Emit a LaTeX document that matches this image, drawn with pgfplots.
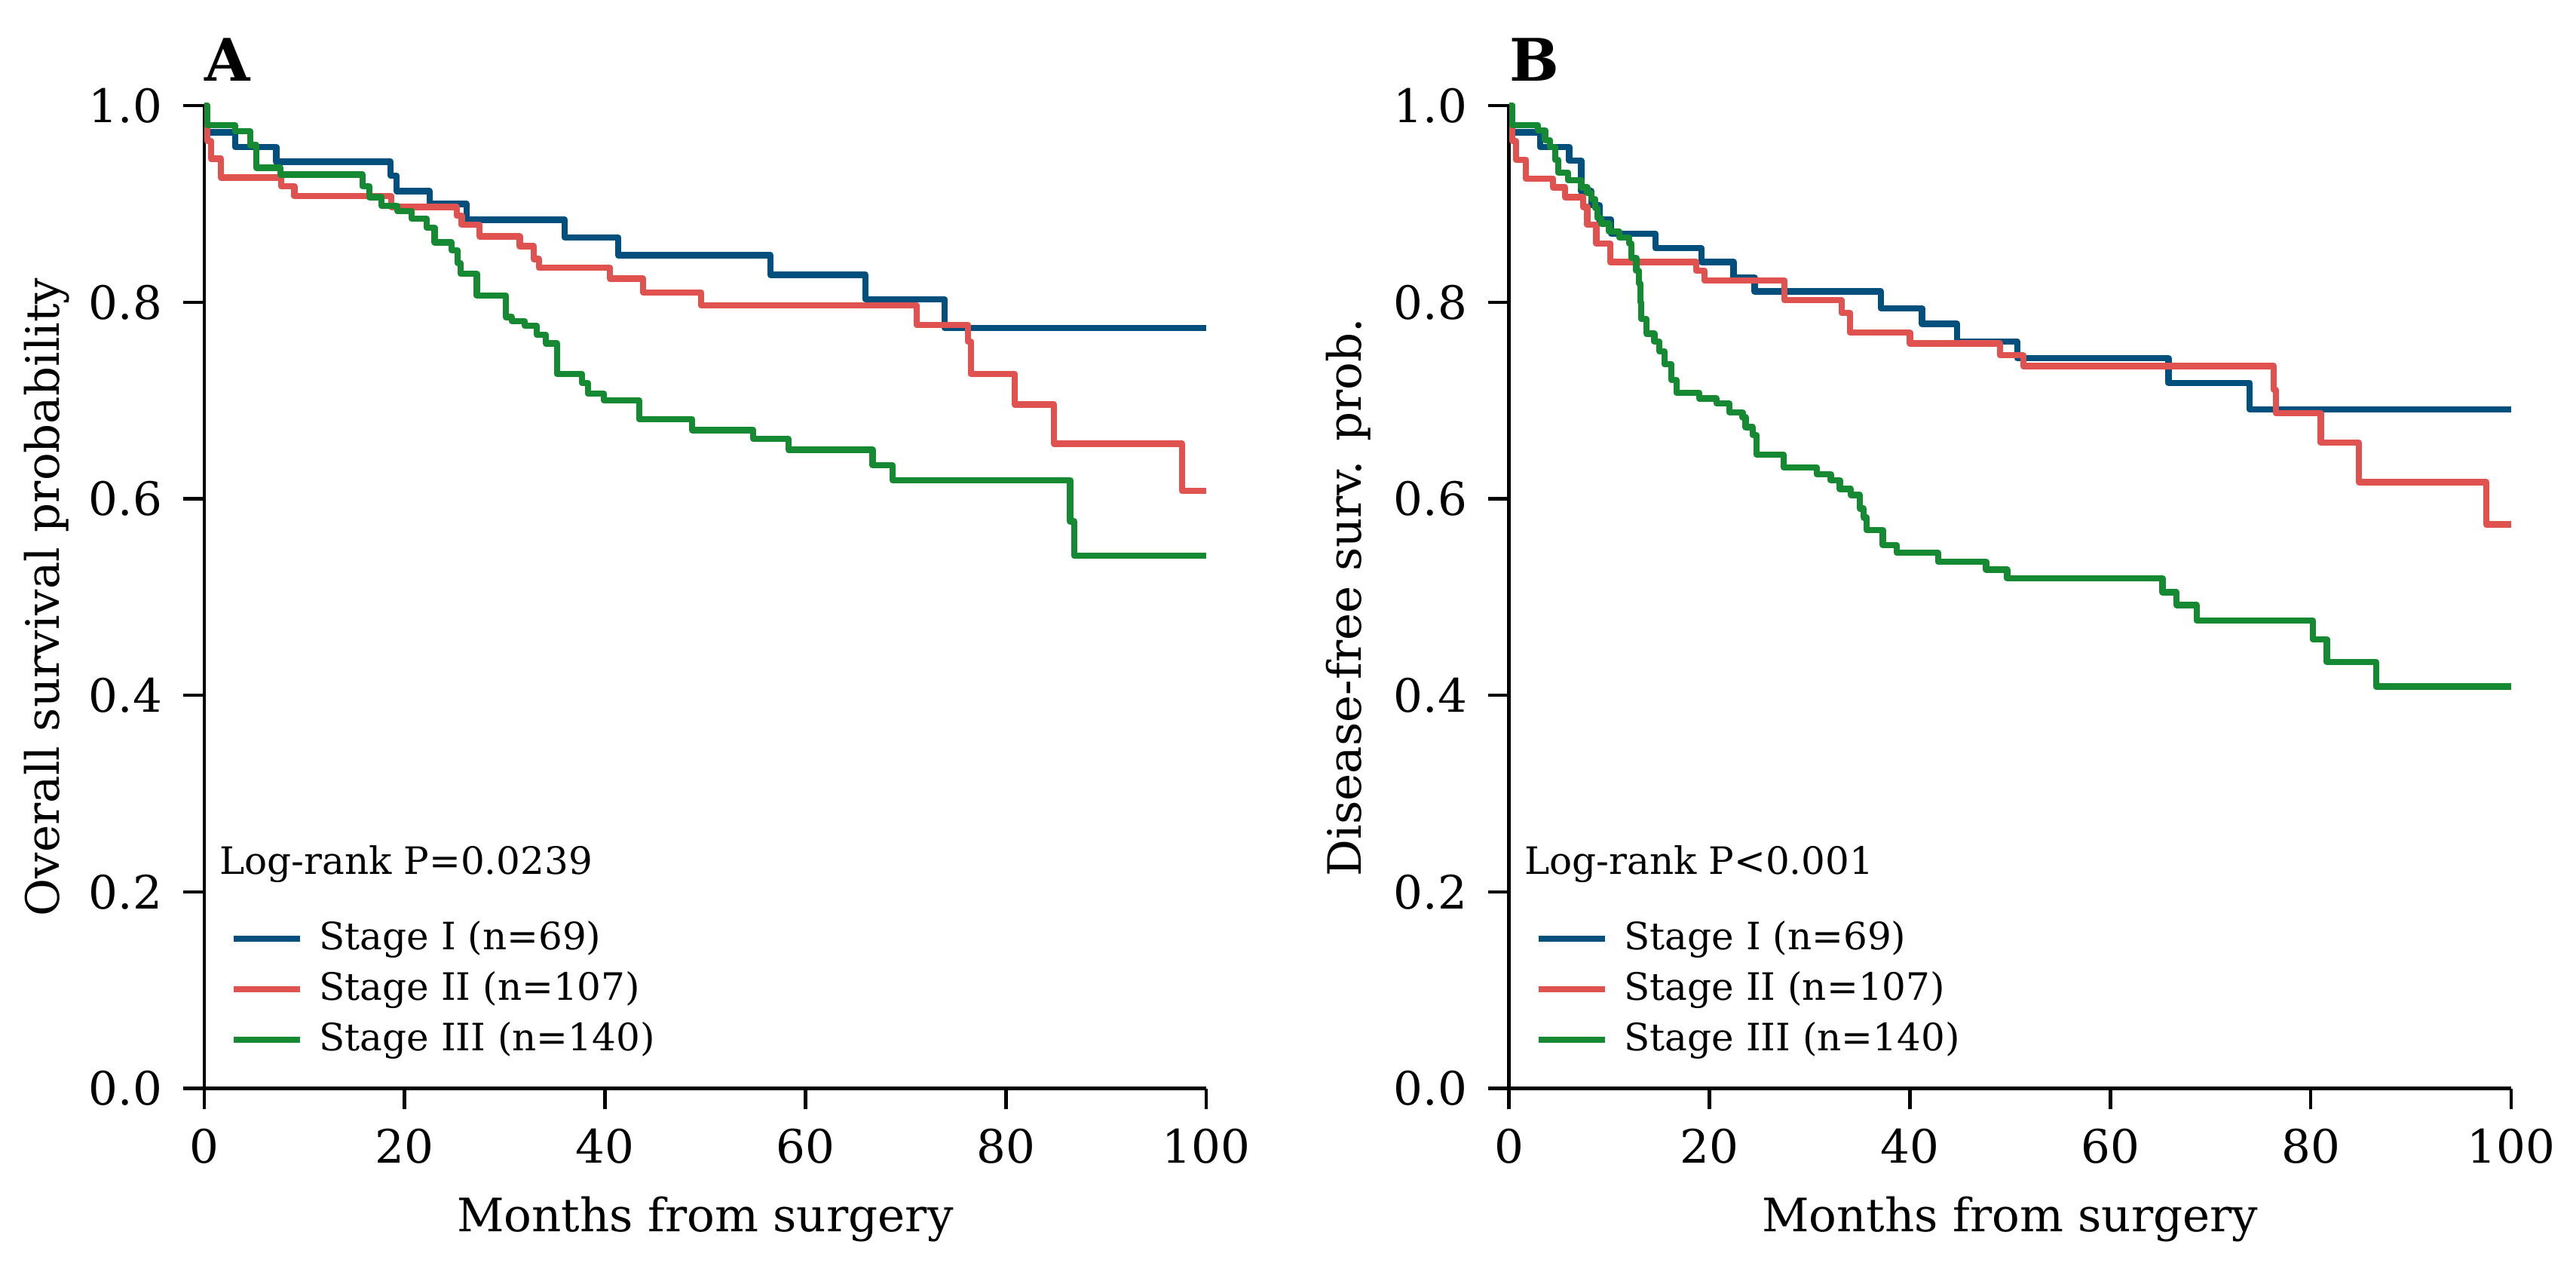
\documentclass[border=0pt]{standalone}
\usepackage{fontspec}
\setmainfont{DejaVu Serif}
\usepackage{pgfplots}
\pgfplotsset{compat=1.18}
\definecolor{cI}{RGB}{0,79,124}
\definecolor{cII}{RGB}{224,82,80}
\definecolor{cIII}{RGB}{22,138,50}

% ---------- Panel A: overall survival ----------
\pgfplotstableread{
t s
0 1.0
0.3 0.973
3.1 0.958
7.2 0.943
18.6 0.929
19.2 0.913
22.5 0.900
26.2 0.884
36.0 0.866
41.3 0.848
56.5 0.828
66.0 0.803
73.9 0.774
100 0.774
}\osI
\pgfplotstableread{
t s
0 1.0
0.3 0.964
0.7 0.946
1.7 0.927
7.7 0.918
9.0 0.908
18.7 0.897
25.2 0.888
25.7 0.879
27.5 0.867
31.5 0.857
32.9 0.844
33.4 0.835
40.5 0.824
43.8 0.810
49.6 0.797
71.1 0.777
76.2 0.760
76.5 0.727
80.9 0.696
84.8 0.656
97.6 0.608
100 0.608
}\osII
\pgfplotstableread{
t s
0 1.0
0.3 0.980
3.1 0.974
4.6 0.960
5.2 0.937
7.6 0.930
15.8 0.918
16.5 0.907
17.7 0.898
19.3 0.893
20.7 0.885
22.2 0.876
23.0 0.861
24.7 0.853
25.3 0.840
25.6 0.829
27.2 0.807
30.1 0.785
30.7 0.781
32.0 0.776
33.2 0.767
34.1 0.758
35.2 0.727
37.7 0.718
38.3 0.707
39.9 0.700
43.4 0.681
48.7 0.670
54.8 0.661
58.3 0.650
66.7 0.634
68.7 0.619
86.4 0.577
86.8 0.542
100 0.542
}\osIII

% ---------- Panel B: disease-free survival ----------
\pgfplotstableread{
t s
0 1.0
0.3 0.973
3.1 0.958
6.0 0.944
7.2 0.913
8.2 0.899
9.0 0.884
10.2 0.870
14.6 0.855
19.2 0.841
22.4 0.825
24.5 0.811
37.1 0.794
41.2 0.778
44.7 0.760
50.7 0.743
65.8 0.718
73.9 0.691
100 0.691
}\dfI
\pgfplotstableread{
t s
0 1.0
0.3 0.964
0.7 0.945
1.7 0.926
4.4 0.917
5.6 0.907
7.4 0.897
7.8 0.879
8.7 0.860
10.1 0.841
18.7 0.832
19.5 0.822
27.5 0.802
33.2 0.789
34.0 0.769
40.0 0.758
49.0 0.746
51.3 0.735
76.3 0.711
76.5 0.687
81.0 0.657
84.8 0.617
97.5 0.574
100 0.574
}\dfII
\pgfplotstableread{
t s
0 1.0
0.3 0.980
2.9 0.975
3.6 0.965
4.1 0.958
4.6 0.945
4.9 0.932
5.9 0.924
7.2 0.917
7.8 0.911
8.2 0.905
8.6 0.896
8.8 0.886
9.2 0.880
10.0 0.872
11.0 0.866
12.0 0.860
12.2 0.845
12.7 0.832
12.96 0.819
13.1 0.800
13.2 0.783
13.7 0.768
14.5 0.760
15.0 0.750
15.5 0.737
16.2 0.721
16.7 0.708
19.0 0.702
20.7 0.697
22.0 0.688
23.3 0.683
23.6 0.673
24.3 0.665
24.7 0.645
27.4 0.632
30.7 0.625
32.1 0.619
33.0 0.610
34.1 0.604
35.0 0.590
35.4 0.581
35.7 0.568
37.3 0.553
38.7 0.545
42.8 0.536
47.6 0.528
49.7 0.519
65.2 0.505
66.6 0.492
68.6 0.476
80.2 0.457
81.6 0.434
86.5 0.409
100 0.409
}\dfIII

\pgfplotsset{
  kmaxis/.style={
    scale only axis, width=239.3pt, height=234.6pt,
    xmin=0, xmax=100, ymin=0, ymax=1,
    axis x line*=bottom, axis y line*=left,
    axis line style={line width=0.8pt, -},
    tick align=outside, major tick length=5pt,
    every tick/.style={black, line width=0.8pt},
    xtick={0,20,40,60,80,100}, ytick={0,0.2,0.4,0.6,0.8,1.0},
    /pgf/number format/assume math mode=true,
    yticklabel style={/pgf/number format/fixed, /pgf/number format/fixed zerofill, /pgf/number format/precision=1},
    ticklabel style={font=\fontsize{11}{13}\selectfont},
    xticklabel style={anchor=north, inner sep=0pt, yshift=-4.4pt},
    yticklabel style={anchor=east, inner sep=0pt, xshift=-4.8pt},
    every axis x label/.style={at={(axis description cs:0.5,-0.1457)}, anchor=base,
      font=\fontsize{11}{13}\selectfont},
    clip=false,
    legend cell align=left,
    legend style={at={(axis description cs:0,0)}, anchor=south west,
      xshift=6.3pt, yshift=7.5pt, draw=none, fill=none, inner sep=0pt, outer sep=0pt,
      font=\fontsize{9}{11}\selectfont, row sep=3.7pt, column sep=3.8pt,
      nodes={inner sep=0pt, outer sep=0pt}},
    legend image code/.code={\draw[#1, line width=1.5pt] (0pt,0pt) -- (15.9pt,0pt);},
    every axis plot/.append style={const plot, line width=1.5pt, line join=round, mark=none},
  }
}

\begin{document}
\begin{tikzpicture}
\path[use as bounding box] (0,0) rectangle (615.06pt,304.38pt);

\begin{axis}[kmaxis, at={(48.73pt,44.53pt)}, anchor=south west,
  xlabel={Months from surgery},
  ylabel={Overall survival probability},
  every axis y label/.style={at={(axis description cs:-0.1449,0.5)}, rotate=90, anchor=base,
    font=\fontsize{11}{13}\selectfont}]
\addplot[cI] table[x=t,y=s] {\osI};
\addlegendentry{Stage I (n=69)}
\addplot[cII] table[x=t,y=s] {\osII};
\addlegendentry{Stage II (n=107)}
\addplot[cIII] table[x=t,y=s] {\osIII};
\addlegendentry{Stage III (n=140)}
\node[anchor=base west, inner sep=0pt, font=\fontsize{9}{11}\selectfont] at (axis description cs:0.0147,0.2178) {Log-rank P=0.0239};
\node[anchor=base west, inner sep=0pt, font=\fontsize{14}{16}\selectfont\bfseries] at (axis description cs:0.0,1.025) {A};
\end{axis}

\begin{axis}[kmaxis, at={(360.3pt,44.53pt)}, anchor=south west,
  xlabel={Months from surgery},
  ylabel={Disease-free surv. prob.},
  every axis y label/.style={at={(axis description cs:-0.1475,0.5)}, rotate=90, anchor=base,
    font=\fontsize{11}{13}\selectfont}]
\addplot[cI] table[x=t,y=s] {\dfI};
\addlegendentry{Stage I (n=69)}
\addplot[cII] table[x=t,y=s] {\dfII};
\addlegendentry{Stage II (n=107)}
\addplot[cIII] table[x=t,y=s] {\dfIII};
\addlegendentry{Stage III (n=140)}
\node[anchor=base west, inner sep=0pt, font=\fontsize{9}{11}\selectfont] at (axis description cs:0.0147,0.2178) {Log-rank P<0.001};
\node[anchor=base west, inner sep=0pt, font=\fontsize{14}{16}\selectfont\bfseries] at (axis description cs:0.0,1.025) {B};
\end{axis}
\end{tikzpicture}
\end{document}
